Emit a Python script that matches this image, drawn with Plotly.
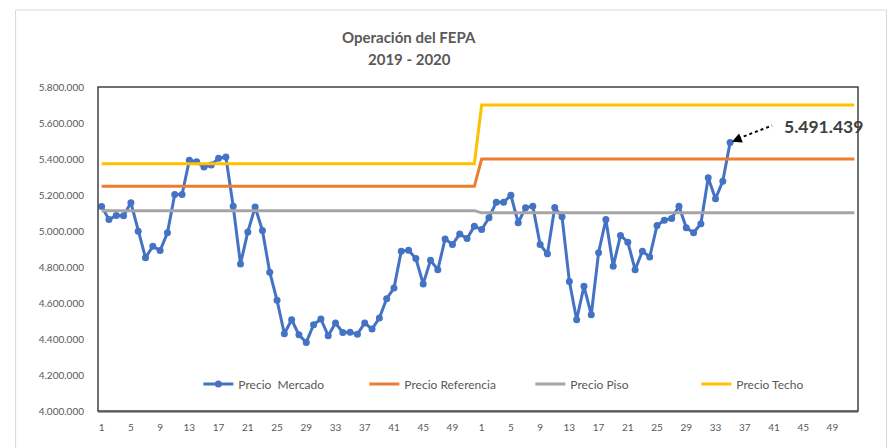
import plotly.graph_objects as go

# ---- data ----
weeks_2019 = list(range(1, 53))
weeks_2020 = list(range(1, 53))
tick_labels = [str(w) for w in range(1, 53, 4)] * 2

precio_mercado = [
    # 2019 (weeks 1-52)
    5136000, 5064000, 5086000, 5085000, 5157000, 4999000, 4851000, 4915000, 4891000, 4990000,
    5203000, 5203000, 5393000, 5385000, 5355000, 5367000, 5404000, 5411000, 5138000, 4817000,
    4995000, 5133000, 5003000, 4771000, 4615000, 4429000, 4507000, 4423000, 4381000, 4479000,
    4511000, 4418000, 4489000, 4436000, 4438000, 4427000, 4489000, 4455000, 4516000, 4624000,
    4683000, 4888000, 4893000, 4847000, 4706000, 4837000, 4785000, 4956000, 4925000, 4984000,
    4958000, 5027000,
    # 2020 (weeks 1-35)
    5008000, 5074000, 5160000, 5160000, 5198000, 5046000, 5129000, 5138000, 4925000, 4873000,
    5131000, 5079000, 4720000, 4507000, 4693000, 4535000, 4879000, 5064000, 4804000, 4975000,
    4938000, 4785000, 4888000, 4856000, 5031000, 5060000, 5070000, 5138000, 5018000, 4990000,
    5040000, 5296000, 5179000, 5277000, 5491439,
]
precio_referencia = [5248000] * 52 + [5400000] * 52
precio_piso = [5113000] * 52 + [5101000] * 52
precio_techo = [5374000] * 52 + [5700000] * 52

last_label = "5.491.439"

# ---- figure ----
n_total = len(weeks_2019) + len(weeks_2020)
x_all = list(range(n_total))
x_mercado = x_all[:len(precio_mercado)]
tick_vals = list(range(0, n_total, 4))

FONT = "Lato, 'Open Sans', sans-serif"
GRAY_TXT = "#595959"

fig = go.Figure()
fig.add_trace(go.Scatter(
    x=x_mercado, y=precio_mercado, name="Precio  Mercado", mode="lines+markers",
    line=dict(color="#4472C4", width=3), marker=dict(color="#4472C4", size=7),
))
fig.add_trace(go.Scatter(
    x=x_all, y=precio_referencia, name="Precio Referencia", mode="lines",
    line=dict(color="#ED7D31", width=3),
))
fig.add_trace(go.Scatter(
    x=x_all, y=precio_piso, name="Precio Piso", mode="lines",
    line=dict(color="#A5A5A5", width=3),
))
fig.add_trace(go.Scatter(
    x=x_all, y=precio_techo, name="Precio Techo", mode="lines",
    line=dict(color="#FFC000", width=3),
))

# page body has an 8px margin: work in screen coordinates and shift
OFF = 8
W, H = 896 - OFF, 448 - OFF
L, R, T, B = 97.5 - OFF, 858.5 - OFF, 87 - OFF, 411 - OFF
pw, ph = R - L, B - T

def px(xs):
    return (xs - OFF - L) / pw

def py(ys):
    return (B - (ys - OFF)) / ph

fig.update_layout(
    width=W, height=H,
    margin=dict(l=L, r=W - R, t=T, b=H - B, pad=0),
    paper_bgcolor="white", plot_bgcolor="white",
    separators=",.",
    font=dict(family=FONT, color=GRAY_TXT, size=10),
    showlegend=True,
    legend=dict(
        orientation="h", x=px(198), y=py(384), xanchor="left", yanchor="middle",
        font=dict(family=FONT, size=12, color=GRAY_TXT),
        bgcolor="rgba(0,0,0,0)", entrywidth=121, entrywidthmode="pixels",
        itemwidth=30,
    ),
    xaxis=dict(
        range=[-0.5, n_total - 0.5], tickmode="array", tickvals=tick_vals,
        ticktext=tick_labels, showgrid=False, zeroline=False,
        showline=True, linecolor="#A6A6A6", linewidth=1.5, ticks="",
        tickfont=dict(size=10, color=GRAY_TXT, family=FONT), ticklabelstandoff=6,
    ),
    yaxis=dict(
        range=[4000000, 5800000], dtick=200000, tickformat=",d",
        showgrid=False, zeroline=False, showline=False, ticks="",
        tickfont=dict(size=10, color=GRAY_TXT, family=FONT), ticklabelstandoff=13,
    ),
)

# plot-area border and outer chart border
fig.add_shape(type="rect", xref="paper", yref="paper", x0=0, x1=1, y0=0, y1=1,
              line=dict(color="#404040", width=1.5), layer="above")
fig.add_shape(type="rect", xref="paper", yref="paper",
              x0=px(15), x1=px(887), y0=py(470), y1=py(10),
              line=dict(color="#D9D9D9", width=1), layer="below")

# title
fig.add_annotation(text="<b>Operación del FEPA</b>", xref="paper", yref="paper",
                   x=px(409), y=py(37), showarrow=False, xanchor="center", yanchor="middle",
                   font=dict(size=15, color=GRAY_TXT, family=FONT))
fig.add_annotation(text="<b>2019 - 2020</b>", xref="paper", yref="paper",
                   x=px(409), y=py(59), showarrow=False, xanchor="center", yanchor="middle",
                   font=dict(size=15, color=GRAY_TXT, family=FONT))

# last value callout
last_i = len(precio_mercado) - 1
last_v = precio_mercado[-1]
fig.add_shape(type="line", xref="x", yref="y", xsizemode="pixel", ysizemode="pixel",
              xanchor=last_i, yanchor=last_v, x0=8, y0=4, x1=42, y1=17,
              line=dict(color="black", width=2, dash="dot"))
fig.add_annotation(x=last_i, y=last_v, xref="x", yref="y", text="",
                   showarrow=True, arrowhead=2, arrowsize=1.3, arrowwidth=1.5,
                   arrowcolor="black", ax=12, ay=-5, standoff=2)
fig.add_annotation(text="<b>" + last_label + "</b>", xref="paper", yref="paper",
                   x=px(824), y=py(126), showarrow=False, xanchor="center", yanchor="middle",
                   font=dict(size=17.5, color="#404040", family=FONT))

fig.write_html("out.html")
